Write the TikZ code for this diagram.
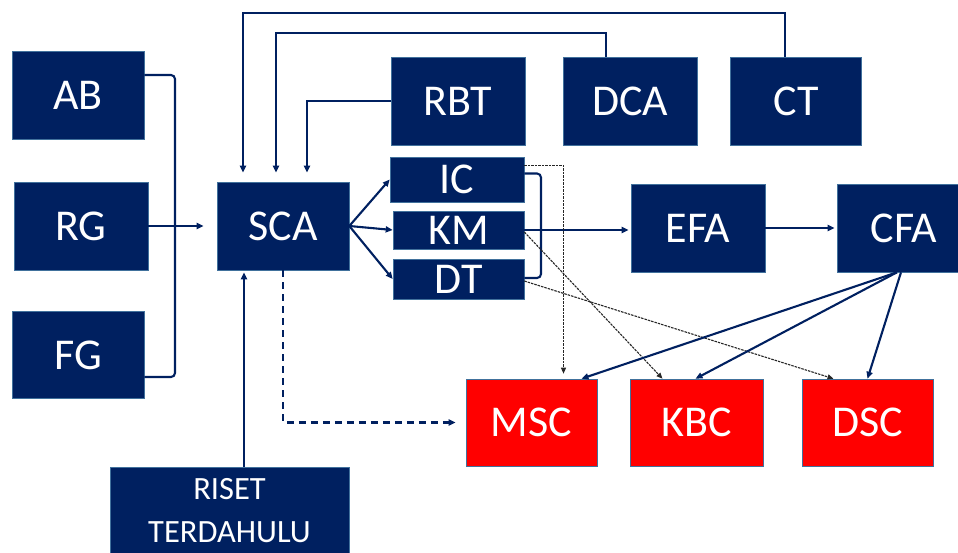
\documentclass[tikz,border=0pt]{standalone}
\usepackage{fontspec}
\setmainfont{Carlito}
\usepackage{xcolor}
\usepackage{tikz}
\usetikzlibrary{arrows.meta}

\definecolor{navy}{RGB}{0,32,96}
\definecolor{edge}{RGB}{65,113,156}

\begin{document}
\begin{tikzpicture}[x=1pt,y=-1pt,
    blk/.style={shape=rectangle, fill=navy, draw=edge, line width=0.6pt, text=white, inner sep=0pt, font=\fontsize{44}{44}\selectfont},
    redblk/.style={blk, fill=red},
    conn/.style={draw=navy, line width=2.1pt},
    arr/.style={conn, -{Triangle[length=7pt,width=6pt]}},
    dotarr/.style={draw=black!85, line width=1.1pt, dash pattern=on 2.5pt off 1pt, -{Triangle[length=6pt,width=5pt]}},
    dasharr/.style={conn, dash pattern=on 7pt off 5pt, -{Triangle[length=7pt,width=6pt]}}]
    \useasboundingbox (0,0) rectangle (958,552);

    \node[blk, minimum width=132pt, minimum height=88pt] (AB) at (78,95) {AB};
    \node[blk, minimum width=134pt, minimum height=88pt] (RG) at (81,226) {RG};
    \node[blk, minimum width=132pt, minimum height=87pt] (FG) at (78,355) {FG};
    \node[blk, minimum width=132pt, minimum height=88pt] (SCA) at (283,226) {SCA};

    \node[blk, minimum width=134pt, minimum height=88pt] (RBT) at (458,101) {RBT};
    \node[blk, minimum width=134pt, minimum height=88pt] (DCA) at (630,101) {DCA};
    \node[blk, minimum width=131pt, minimum height=88pt] (CT) at (796,101) {CT};

    \node[blk, minimum width=134pt, minimum height=45pt] (IC) at (457,179.5) {IC};
    \node[blk, minimum width=131pt, minimum height=38pt] (KM) at (458.5,230) {KM};
    \node[blk, minimum width=131pt, minimum height=40pt] (DT) at (458.5,279) {DT};

    \node[blk, minimum width=134pt, minimum height=88pt] (EFA) at (698,228) {EFA};
    \node[blk, minimum width=134pt, minimum height=88pt] (CFA) at (904,228) {CFA};

    \node[redblk, minimum width=131pt, minimum height=87pt] (MSC) at (531.5,422.5) {MSC};
    \node[redblk, minimum width=133pt, minimum height=87pt] (KBC) at (696.5,422.5) {KBC};
    \node[redblk, minimum width=131pt, minimum height=87pt] (DSC) at (867.5,422.5) {DSC};

    \node[blk, minimum width=239pt, minimum height=88pt, align=center, font=\fontsize{32.5}{43}\selectfont] (riset) at (229.5,511) {RISET\\TERDAHULU};

    \coordinate (brk1) at (175,226);
    \coordinate (brk2) at (541,226);
    \coordinate (top1) at (243,13);
    \coordinate (top2) at (276,33);

    \draw[conn, rounded corners=4pt] ([yshift=20pt]AB.east) -| (brk1) |- ([yshift=-22pt]FG.east);
    \draw[arr, shorten >=13pt] (RG) -- (SCA);

    \draw[arr, shorten >=9pt] ([xshift=-11pt]CT.north) |- (top1) -- (top1 |- SCA.north);
    \draw[arr, shorten >=9pt] ([xshift=-24pt]DCA.north) |- (top2) -- (top2 |- SCA.north);
    \draw[arr, shorten >=9pt] (RBT.west) -| ([xshift=24pt]SCA.north);

    \draw[arr] (SCA.east) -- (IC.west);
    \draw[arr] (SCA.east) -- (KM.west);
    \draw[arr] (SCA.east) -- (DT.west);
    \draw[conn, rounded corners=4pt] ([yshift=6pt]IC.east) -| (brk2) |- ([yshift=1pt]DT.east);

    \draw[arr, shorten >=2pt] (KM.east) -- (KM.east -| EFA.west);
    \draw[arr, shorten >=2pt] (EFA) -- (CFA);

    \draw[dotarr, shorten >=5pt] ([yshift=14pt]IC.east) -| ([xshift=32pt]MSC.north);
    \draw[dotarr] ([yshift=-2pt]KM.east) -- ([xshift=-34pt]KBC.north);
    \draw[dotarr] ([yshift=-2pt]DT.east) -- ([xshift=-34pt]DSC.north);

    \draw[arr] ([xshift=-7pt]CFA.south) -- ([xshift=50pt]MSC.north);
    \draw[arr] ([xshift=-7pt]CFA.south) -- ([xshift=-1pt]KBC.north);
    \draw[arr] ([xshift=-3pt]CFA.south) -- (DSC.north);

    \draw[arr, shorten >=2pt] ([xshift=-39pt]SCA.south |- riset.north) -- ([xshift=-39pt]SCA.south);
    \draw[dasharr, shorten >=10pt] (SCA.south) |- (MSC.west);
\end{tikzpicture}
\end{document}
